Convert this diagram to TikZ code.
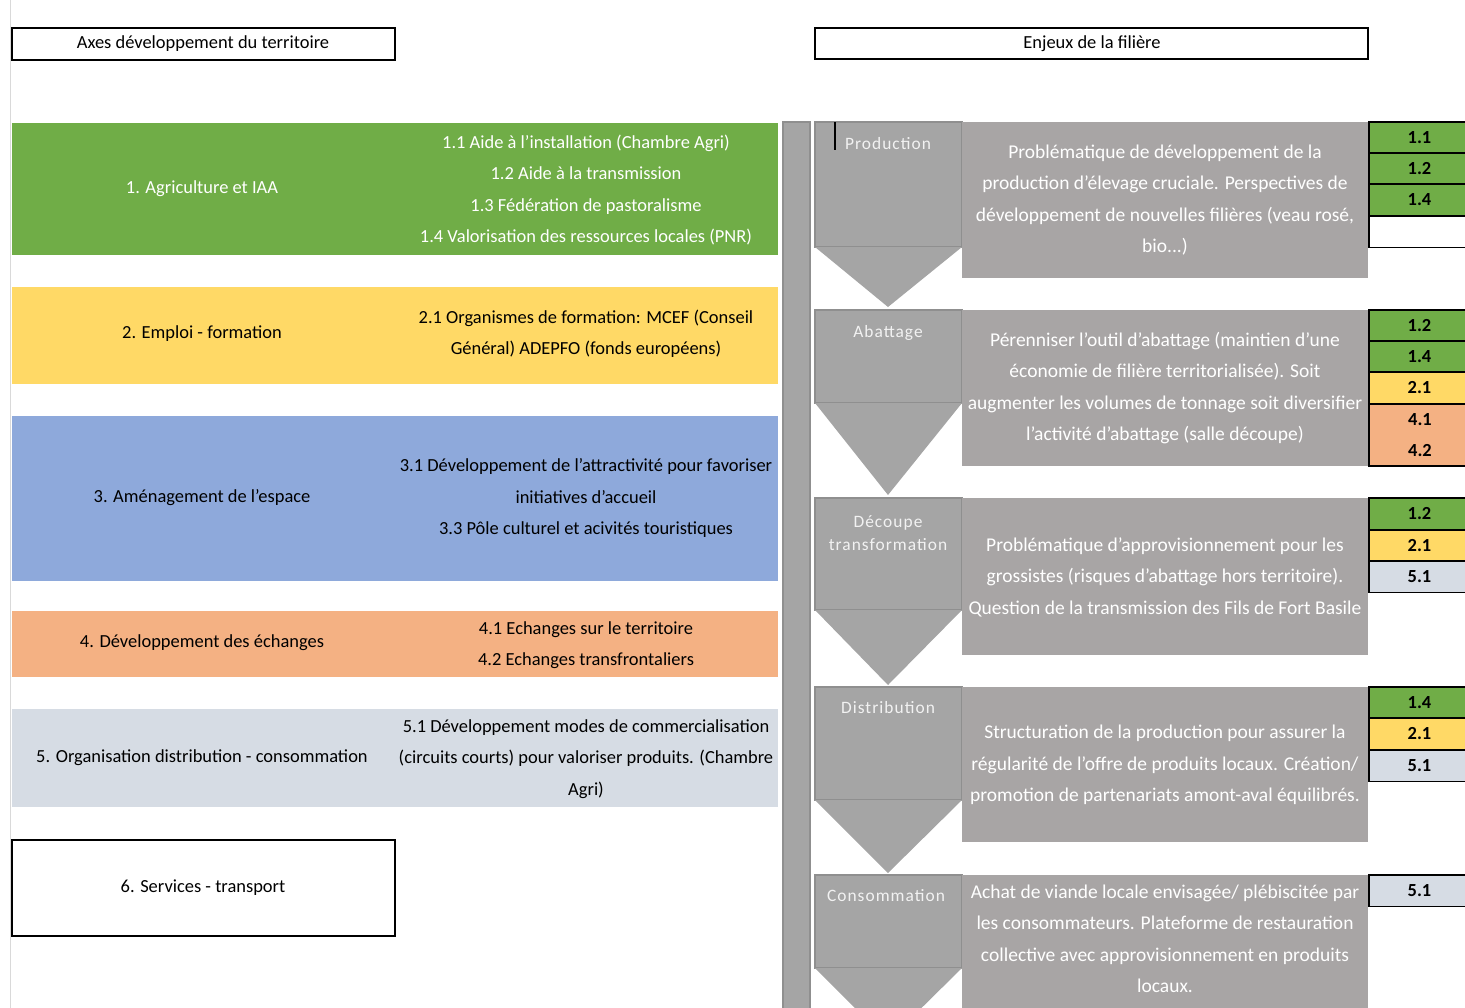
\documentclass[tikz,border=0pt]{standalone}
\usepackage{fontspec}
\setmainfont{Carlito}
\newfontfamily\chevfont[LetterSpace=6]{Carlito}
\usepackage{tikz}
\usetikzlibrary{calc}

\definecolor{agri}{HTML}{70AD47}
\definecolor{emploi}{HTML}{FFD966}
\definecolor{amenag}{HTML}{8EA9DB}
\definecolor{echange}{HTML}{F4B183}
\definecolor{distrib}{HTML}{D6DCE4}
\definecolor{chevgris}{HTML}{A5A5A5}
\definecolor{chevbord}{HTML}{8F8F8F}
\definecolor{enjeugris}{HTML}{A8A5A5}

\tikzset{
	txt/.style={font=\fontsize{10.5}{17.9}\selectfont, align=center, inner sep=0pt},
	chevlbl/.style={font=\chevfont\fontsize{9.9}{13.5}\selectfont, text=white!95!black, align=center, inner sep=0pt},
	enjeu/.style={txt, font=\fontsize{11.1}{17.9}\selectfont, text=white},
	cell/.style={draw=black, line width=0.6pt},
	entete/.style={draw=black, line width=0.9pt}
}

\begin{document}
\begin{tikzpicture}[x=0.02cm, y=-0.02cm]
		%%%%% START %%%%%
		\useasboundingbox (0, 0) rectangle (1465, 1008);
		\clip (0, 0) rectangle (1465, 1008);
		
		\draw[line width=0.4pt, color=black!15] (10, 0) -- (10, 1008);
		
		% en-tetes
		\draw[entete] (12, 28) rectangle (395, 60);
		\node[txt] (axes) at (203, 44) {Axes développement du territoire};
		\draw[entete] (815, 28) rectangle (1368, 59);
		\node[txt] (enjeux) at (1092, 44) {Enjeux de la filière};
		
		% axes du territoire
		\fill[agri] (12, 123) rectangle (778, 255);
		\node[txt, text=white] (ax1) at (202, 189) {1. Agriculture et IAA};
		\node[txt, text=white] (ax1d) at (586, 190) {1.1 Aide à l'installation (Chambre Agri)\\1.2 Aide à la transmission\\1.3 Fédération de pastoralisme\\1.4 Valorisation des ressources locales (PNR)};
		
		\fill[emploi] (12, 287) rectangle (778, 384);
		\node[txt] (ax2) at (202, 334) {2. Emploi - formation};
		\node[txt] (ax2d) at (586, 334) {2.1 Organismes de formation: MCEF (Conseil\\Général) ADEPFO (fonds européens)};
		
		\fill[amenag] (12, 416) rectangle (778, 581);
		\node[txt] (ax3) at (202, 498) {3. Aménagement de l'espace};
		\node[txt] (ax3d) at (586, 498) {3.1 Développement de l'attractivité pour favoriser\\initiatives d'accueil\\3.3 Pôle culturel et acivités touristiques};
		
		\fill[echange] (12, 611) rectangle (778, 677);
		\node[txt] (ax4) at (202, 643) {4. Développement des échanges};
		\node[txt] (ax4d) at (586, 645) {4.1 Echanges sur le territoire\\4.2 Echanges transfrontaliers};
		
		\fill[distrib] (12, 709) rectangle (778, 807);
		\node[txt] (ax5) at (202, 758) {5. Organisation distribution - consommation};
		\node[txt] (ax5d) at (586, 759) {5.1 Développement modes de commercialisation\\(circuits courts) pour valoriser produits. (Chambre\\Agri)};
		
		\draw[entete] (12, 840) rectangle (395, 936);
		\node[txt] (ax6) at (203, 888) {6. Services - transport};
		
		% barre verticale
		\draw[fill=chevgris, draw=chevbord, line width=0.6pt] (783, 122) rectangle (810, 1020);
		
		% chevrons
		\draw[fill=chevgris, draw=chevbord, line width=0.8pt] (815, 122) rectangle (962, 247);
		\fill[chevgris] (815, 247) -- (962, 247) -- (888, 307) -- cycle;
		\node[chevlbl] (prod) at (888, 144) {Production};
		\draw[line width=0.8pt] (835, 122) -- (835, 150);
		
		\draw[fill=chevgris, draw=chevbord, line width=0.8pt] (815, 310) rectangle (962, 403);
		\fill[chevgris] (815, 403) -- (962, 403) -- (888, 495) -- cycle;
		\node[chevlbl] (abat) at (888, 333) {Abattage};
		
		\draw[fill=chevgris, draw=chevbord, line width=0.8pt] (815, 498) rectangle (962, 610);
		\fill[chevgris] (815, 610) -- (962, 610) -- (888, 685) -- cycle;
		\node[chevlbl] (decoup) at (888, 533) {Découpe\\transformation};
		
		\draw[fill=chevgris, draw=chevbord, line width=0.8pt] (815, 687) rectangle (962, 800);
		\fill[chevgris] (815, 800) -- (962, 800) -- (888, 873) -- cycle;
		\node[chevlbl] (distr) at (888, 708) {Distribution};
		
		\draw[fill=chevgris, draw=chevbord, line width=0.8pt] (815, 875) rectangle (962, 968);
		\fill[chevgris] (815, 968) -- (962, 968) -- (888, 1041) -- cycle;
		\node[chevlbl] (conso) at (886, 896) {Consommation};
		
		% enjeux
		\fill[enjeugris] (962, 122) rectangle (1368, 278);
		\node[enjeu] (enj1) at (1165, 200) {Problématique de développement de la\\production d'élevage cruciale. Perspectives de\\développement de nouvelles filières (veau rosé,\\bio...)};
		
		\fill[enjeugris] (962, 310) rectangle (1368, 466);
		\node[enjeu] (enj2) at (1165, 388) {Pérenniser l'outil d'abattage (maintien d'une\\économie de filière territorialisée). Soit\\augmenter les volumes de tonnage soit diversifier\\l'activité d'abattage (salle découpe)};
		
		\fill[enjeugris] (962, 498) rectangle (1368, 655);
		\node[enjeu] (enj3) at (1165, 577) {Problématique d'approvisionnement pour les\\grossistes (risques d'abattage hors territoire).\\Question de la transmission des Fils de Fort Basile};
		
		\fill[enjeugris] (962, 687) rectangle (1368, 842);
		\node[enjeu] (enj4) at (1165, 765) {Structuration de la production pour assurer la\\régularité de l'offre de produits locaux. Création/\\promotion de partenariats amont-aval équilibrés.};
		
		\fill[enjeugris] (962, 875) rectangle (1368, 1020);
		\node[enjeu] (enj5) at (1165, 939) {Achat de viande locale envisagée/ plébiscitée par\\les consommateurs. Plateforme de restauration\\collective avec approvisionnement en produits\\locaux.};
		
		% renvois vers les axes
		\foreach \y/\c/\t in {122/agri/1.1, 153/agri/1.2, 184/agri/1.4, 216/white/{},
				310/agri/1.2, 341/agri/1.4, 372/emploi/2.1,
				498/agri/1.2, 530/emploi/2.1, 561/distrib/5.1,
				687/agri/1.4, 718/emploi/2.1, 750/distrib/5.1,
				875/distrib/5.1}
			\draw[cell, fill=\c] (1369, \y) rectangle (1475, \y+31.5) node[txt, midway, xshift=-0.05cm] {\textbf{\t}};
		\draw[cell, fill=echange] (1369, 404) rectangle (1475, 466);
		\node[txt] (r41) at (1420, 420) {\textbf{4.1}};
		\node[txt] (r42) at (1420, 451) {\textbf{4.2}};
		
		%%%%% END %%%%%
	\end{tikzpicture}
\end{document}
